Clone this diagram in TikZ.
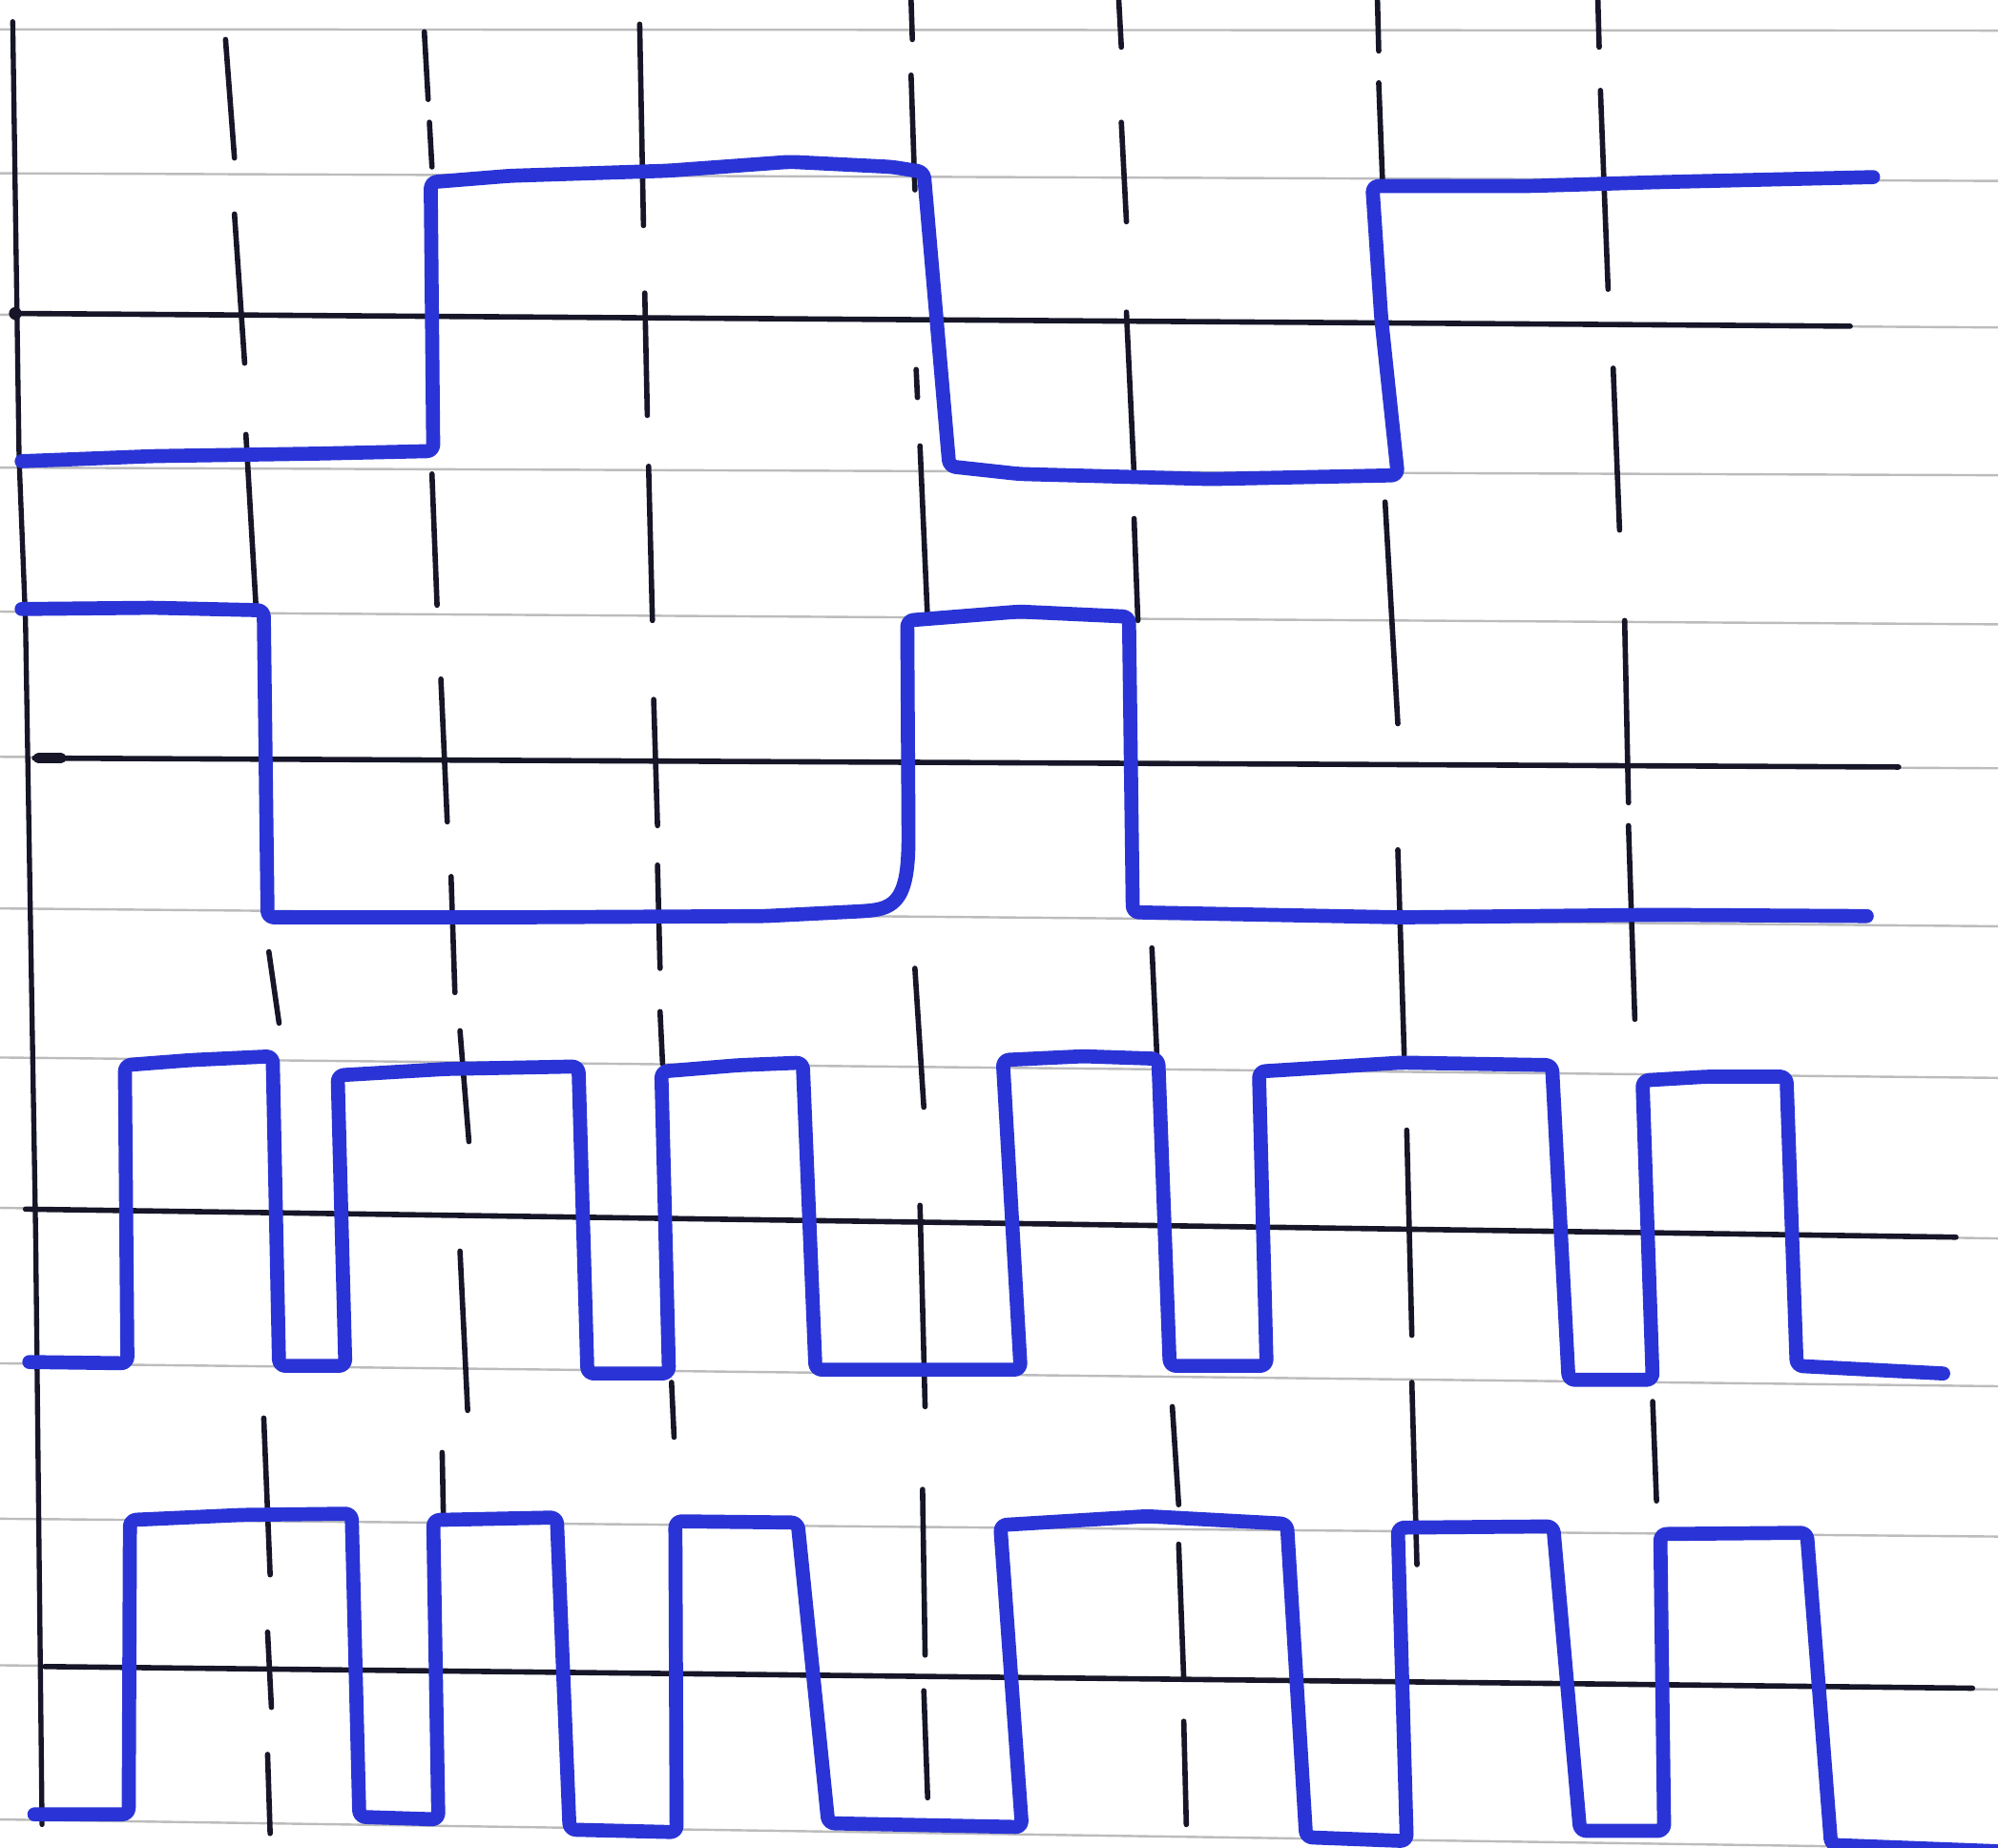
\documentclass[tikz,border=0pt]{standalone}
\definecolor{wblue}{RGB}{42,52,214}
\definecolor{ink}{RGB}{22,22,40}
\definecolor{rulegray}{RGB}{188,188,188}
\tikzset{
  wave/.style={draw=wblue, line width=1.1mm, line join=round, line cap=round, rounded corners=0.5mm},
  axisline/.style={draw=ink, line width=0.42mm, line cap=round},
  guide/.style={draw=ink, line width=0.42mm, line cap=round},
  ruled/.style={draw=rulegray, line width=0.18mm},
}
\begin{document}
\begin{tikzpicture}[x=0.1mm,y=-0.1mm]
\fill[white] (0,0) rectangle (1568,1450);
\useasboundingbox (0,0) rectangle (1568,1450);

% ruled paper lines
\foreach \a/\b in {23/24,136/142,247/257,367/373,480/490,594/603,713/727,830/846,948/972,1070/1088,1192/1206,1307/1326,1428/1451}
  \draw[ruled] (0,\a) -- (1568,\b);

% left vertical line
\draw[guide, line width=0.4mm] (10,17) -- (15,360) -- (20,487) -- (28,970) -- (33,1432);

% black axes
\draw[axisline] (12,246) -- (1452,256);
\fill[ink] (12,246) circle (0.5mm);
\draw[axisline] (27,595) -- (1490,602);
\draw[ink, line width=0.8mm, line cap=round] (30,595) -- (48,595);
\draw[axisline] (20,949) -- (1535,971);
\draw[axisline] (35,1308) -- (1548,1325);

% dashed vertical guides (hand drawn)
\draw[guide] (177,31) -- (184,124) (184,168) -- (192,285) (193,341) -- (201,478)
  (211,747) -- (219,803) (207,1113) -- (212,1236) (210,1281) -- (213,1340) (210,1377) -- (212,1439);
\draw[guide] (333,25) -- (336,78) (337,96) -- (339,131) (339,372) -- (343,475)
  (346,533) -- (351,645) (354,688) -- (357,779) (361,809) -- (368,896)
  (361,982) -- (367,1107) (347,1140) -- (348,1192);
\draw[guide] (502,19) -- (505,177) (506,230) -- (508,326) (509,366) -- (512,487)
  (513,549) -- (516,648) (516,679) -- (518,760) (518,794) -- (520,835) (527,1085) -- (529,1128);
\draw[guide] (715,0) -- (716,31) (715,59) -- (718,149) (719,290) -- (720,312) (722,350) -- (728,487)
  (718,760) -- (725,869) (722,946) -- (726,1104) (724,1169) -- (726,1299) (725,1327) -- (728,1411);
\draw[guide] (878,0) -- (880,37) (880,96) -- (884,174) (884,245) -- (890,372) (890,407) -- (893,487)
  (904,744) -- (908,830) (920,1104) -- (925,1181) (925,1212) -- (929,1318) (929,1351) -- (931,1432);
\draw[guide] (1081,0) -- (1082,40) (1082,65) -- (1085,143) (1087,394) -- (1097,568)
  (1097,667) -- (1102,828) (1104,887) -- (1108,1048) (1108,1085) -- (1112,1228);
\draw[guide] (1254,0) -- (1255,37) (1256,71) -- (1262,227) (1266,289) -- (1271,416)
  (1275,487) -- (1278,630) (1278,648) -- (1283,800) (1297,1100) -- (1300,1178);

% waveforms
\draw[wave] (17,362) -- (120,358) -- (250,356) -- (340,354) -- (338,143) -- (400,138) -- (524,134)
  -- (620,127) -- (700,131) -- (725,135) -- (745,366) -- (800,372) -- (950,376) -- (1097,373)
  -- (1084,250) -- (1077,146) -- (1200,146) -- (1300,143) -- (1470,139);

\draw[wave] (17,478) -- (120,477) -- (207,479) -- (210,720) -- (400,720) -- (600,719) -- (680,715)
  .. controls (705,712) and (712,700) .. (713,660) -- (712,487) -- (800,480) -- (886,484)
  -- (889,716) -- (1100,720) -- (1300,718) -- (1465,719);

\draw[wave] (23,1069) -- (100,1070) -- (98,836) -- (150,832) -- (214,829) -- (219,1072) -- (271,1072)
  -- (265,844) -- (350,839) -- (454,837) -- (461,1078) -- (525,1078) -- (519,841) -- (580,836)
  -- (630,834) -- (640,1075) -- (801,1075) -- (787,832) -- (850,829) -- (909,831) -- (918,1072)
  -- (994,1072) -- (988,841) -- (1100,834) -- (1218,836) -- (1231,1083) -- (1297,1083)
  -- (1289,848) -- (1340,845) -- (1402,845) -- (1410,1072) -- (1525,1078);

\draw[wave] (27,1424) -- (101,1424) -- (102,1193) -- (190,1189) -- (276,1188) -- (282,1426)
  -- (344,1428) -- (340,1193) -- (437,1191) -- (447,1436) -- (531,1438) -- (530,1194)
  -- (626,1195) -- (650,1431) -- (802,1434) -- (785,1197) -- (900,1190) -- (1010,1196)
  -- (1025,1442) -- (1104,1445) -- (1097,1199) -- (1219,1198) -- (1240,1437) -- (1306,1437)
  -- (1303,1204) -- (1418,1203) -- (1437,1448) -- (1568,1453);
\end{tikzpicture}
\end{document}
